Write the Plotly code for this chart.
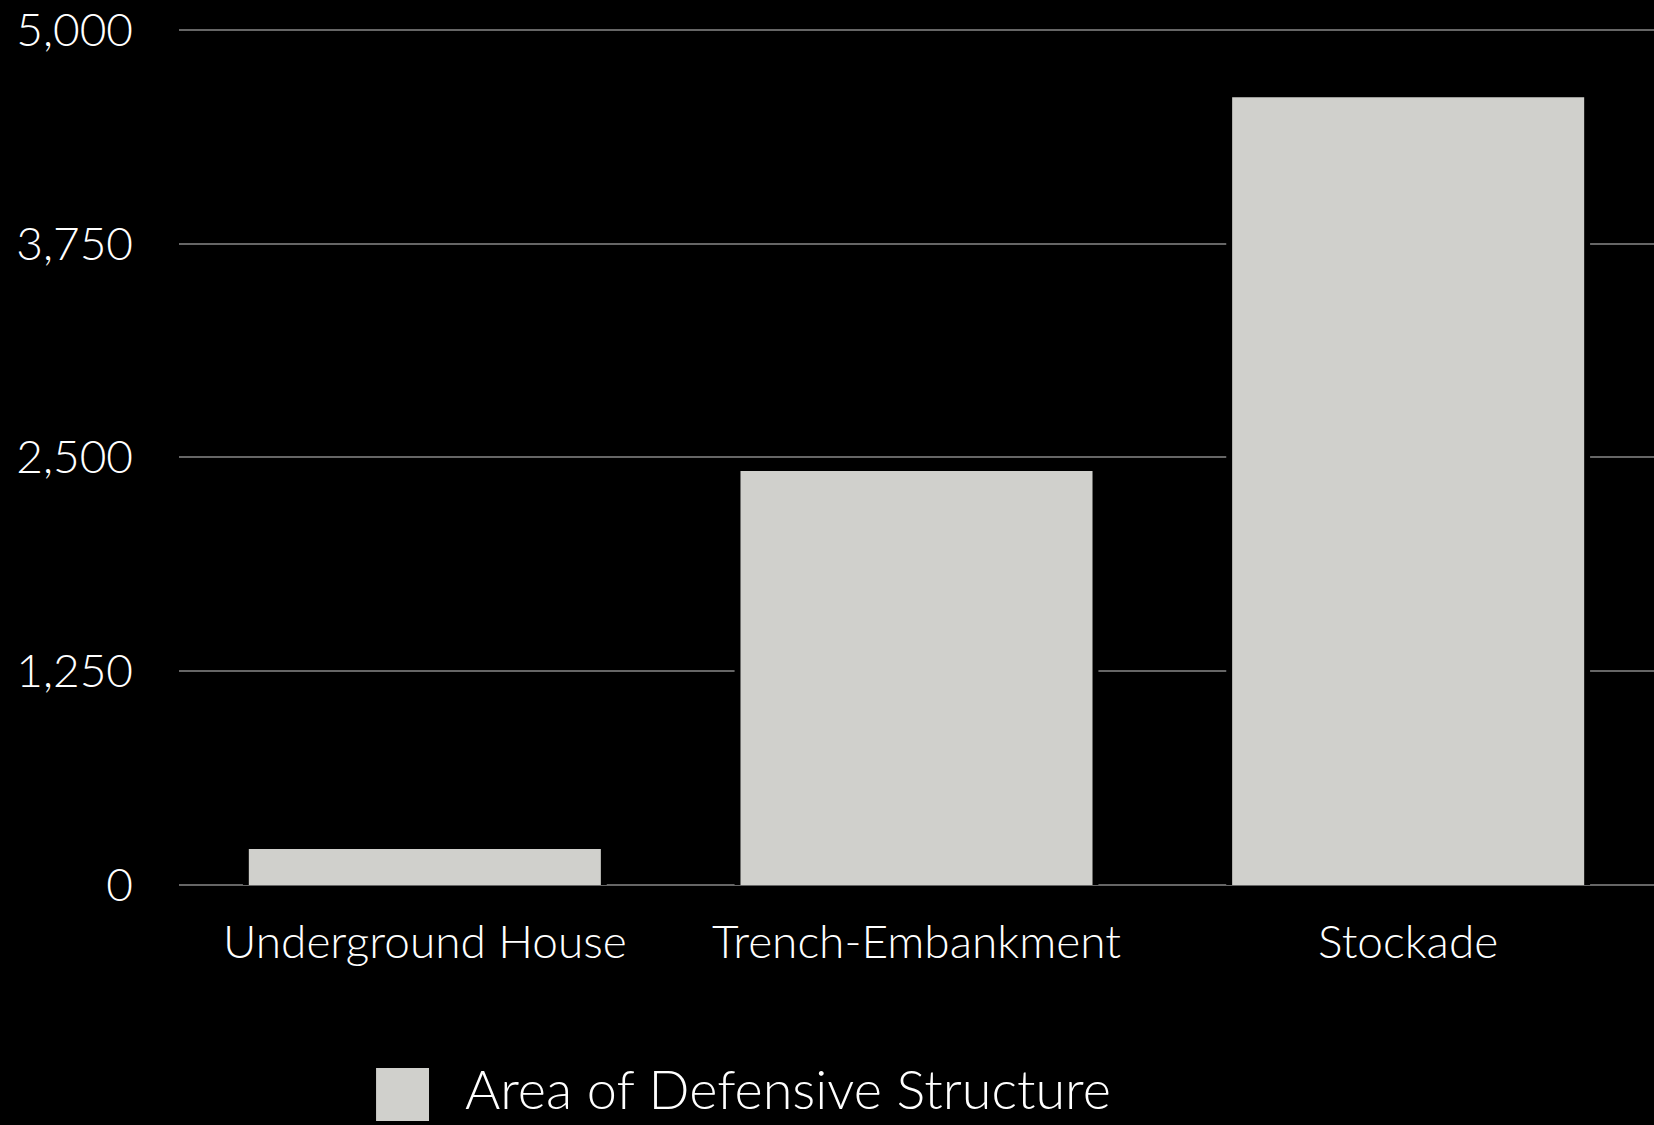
import plotly.graph_objects as go

# Defensive structure types and their areas
categories = ["Underground House", "Trench-Embankment", "Stockade"]
areas = [210, 2420, 4605]
tick_values = [0, 1250, 2500, 3750, 5000]
tick_labels = ["0", "1,250", "2,500", "3,750", "5,000"]
series_name = "Area of Defensive Structure"

FONT = "Lato"
WEIGHT = 300
BAR_FILL = "#d0d0cc"
GRID = "#666666"

fig = go.Figure()

# dark halo behind each bar so gridlines stop short of the bar edges
fig.add_trace(go.Bar(
    x=categories, y=areas, width=0.74,
    marker=dict(color="black", line=dict(width=0)),
    showlegend=False, hoverinfo="skip",
))
fig.add_trace(go.Bar(
    x=categories, y=areas, width=0.716, name=series_name,
    marker=dict(color=BAR_FILL, line=dict(width=0)),
    showlegend=False,
))

# legend swatch and label
fig.add_shape(type="rect", xref="paper", yref="paper",
              x0=0.1336, x1=0.1695, y0=-0.2754, y1=-0.2135,
              fillcolor=BAR_FILL, line=dict(width=0))
fig.add_annotation(text=series_name, xref="paper", yref="paper",
                   x=0.1925, y=-0.2375, xanchor="left", yanchor="middle",
                   showarrow=False,
                   font=dict(family=FONT, size=54, color="white", weight=WEIGHT))

fig.update_layout(
    width=1654, height=1125,
    margin=dict(l=179, r=0, t=28, b=240),
    paper_bgcolor="black", plot_bgcolor="black",
    barmode="overlay",
    font=dict(family=FONT, color="white", weight=WEIGHT),
    xaxis=dict(
        range=[-0.5, 2.5], showgrid=False, zeroline=False, showline=False,
        tickfont=dict(family=FONT, size=46, color="white", weight=WEIGHT),
        ticks="", ticklabelstandoff=26,
    ),
    yaxis=dict(
        range=[0, 5010], tickvals=tick_values, ticktext=tick_labels,
        showgrid=True, gridcolor=GRID, gridwidth=2,
        zeroline=True, zerolinecolor=GRID, zerolinewidth=2,
        showline=False, ticks="",
        tickfont=dict(family=FONT, size=46, color="white", weight=WEIGHT),
        ticklabelstandoff=45,
    ),
)

fig.write_html("out.html")
